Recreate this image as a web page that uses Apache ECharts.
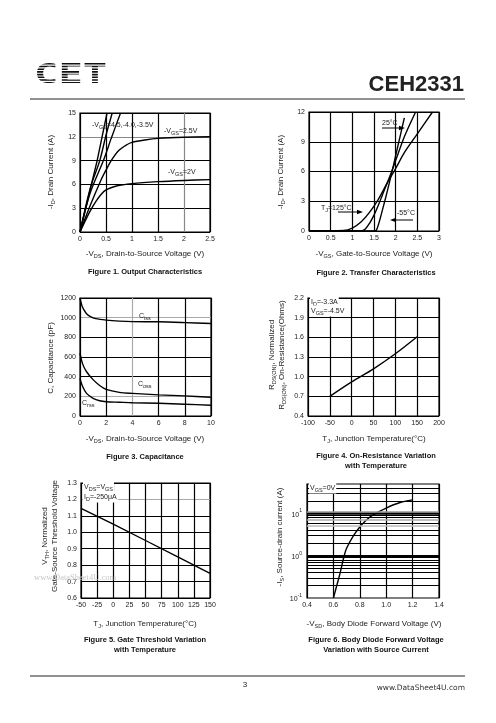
<!DOCTYPE html>
<html><head><meta charset="utf-8">
<script src="https://cdn.jsdelivr.net/npm/echarts@6/dist/echarts.min.js"></script>
<style>html,body{margin:0;padding:0;background:#fff}#c{width:496px;height:723px}</style>
</head><body><div id="c"></div><script>
// ---------- DATA ----------
// Figure 1: Output characteristics  [-VDS (V), -ID (A)]
const fig1Vgs45 = [[0,0],[0.33,9],[0.52,15]];
const fig1Vgs40 = [[0,0],[0.2,5.6],[0.38,9],[0.5,12.2],[0.62,15]];
const fig1Vgs35 = [[0,0],[0.2,5],[0.45,9],[0.6,11.8],[0.78,15]];
const fig1Vgs25 = [[0,0],[0.2,3.4],[0.4,6.5],[0.5,7.8],[0.6,9],[0.75,10.3],[0.9,11],[1.0,11.3],[1.25,11.6],[1.5,11.8],[2.0,11.95],[2.5,12.0]];
const fig1Vgs20 = [[0,0],[0.1,1.4],[0.2,2.7],[0.3,3.8],[0.4,4.7],[0.5,5.3],[0.7,5.8],[1.0,6.1],[1.5,6.35],[2.0,6.5],[2.5,6.6]];
// Figure 2: Transfer characteristics [-VGS (V), -ID (A)]
const fig2T125 = [[0,0],[0.8,0.05],[1.0,0.3],[1.2,0.9],[1.4,1.9],[1.6,3.2],[1.8,4.8],[2.0,6.3],[2.2,7.9],[2.5,9.8],[2.85,12]];
const fig2T25  = [[0,0],[1.2,0],[1.3,0.2],[1.4,0.8],[1.5,1.6],[1.6,2.6],[1.7,3.7],[1.8,4.8],[1.9,5.9],[2.0,7.1],[2.2,9.5],[2.46,12]];
const fig2Tm55 = [[0,0],[1.5,0],[1.55,0.05],[1.6,0.6],[1.7,2.2],[1.8,3.9],[1.9,5.7],[2.0,7.6],[2.1,9.5],[2.2,11.4]];
// Figure 3: Capacitance [-VDS (V), C (pF)]
const fig3Ciss = [[0,1200],[0.15,1120],[0.3,1080],[0.5,1040],[0.8,1010],[1.2,990],[2,975],[3,965],[4,960],[6,958],[8,950],[10,940]];
const fig3Coss = [[0,640],[0.2,530],[0.5,450],[1,370],[1.5,310],[2,270],[3,240],[4,230],[6,215],[8,205],[10,190]];
const fig3Crss = [[0,380],[0.2,300],[0.5,230],[1,180],[1.5,155],[2,145],[3,140],[4,135],[6,130],[8,120],[10,110]];
// Figure 4: On-resistance vs temperature [TJ (C), normalized RDS(ON)]
const fig4Rds = [[-50,0.7],[0,0.92],[50,1.12],[100,1.35],[150,1.61]];
// Figure 5: Gate threshold vs temperature [TJ (C), normalized VTH]
const fig5Vth = [[-50,1.145],[0,1.05],[50,0.95],[100,0.85],[150,0.75]];
// Figure 6: Body diode [-VSD (V), -IS (A)]
const fig6Is = [[0.6,0.1],[0.62,0.17],[0.65,0.38],[0.68,0.95],[0.7,1.5],[0.75,2.9],[0.8,4.8],[0.85,7],[0.9,9.3],[1.0,13.5],[1.1,18],[1.2,21]];
const fig6MinorGrid = [0.2,0.3,0.4,0.5,0.6,0.7,0.8,0.9,1,2,3,4,5,6,7,8,9,10,11,20,30,40];
const fig6DecadeTicks = [0.1,1,10];

// ---------- STYLE / LAYOUT ----------
const FONT = 'Liberation Sans, Arial, sans-serif';
const TXT = '#222';
const subRich = {
  s:{fontSize:5.5, fontFamily:FONT, fill:TXT, verticalAlign:'bottom', lineHeight:6},
  b:{fontSize:7.5, fontFamily:FONT, fill:TXT, fontWeight:'bold', lineHeight:11}
};
const gridBoxes = [
  {left:80, top:113, width:130, height:119},
  {left:309, top:112, width:130, height:119},
  {left:80, top:298, width:131, height:118},
  {left:308, top:298, width:131, height:118},
  {left:81, top:483, width:129, height:115},
  {left:307, top:484, width:132, height:114}
];
const grids = gridBoxes.map(g => Object.assign({show:true, borderColor:'#000', borderWidth:1.2, backgroundColor:'transparent', containLabel:false}, g));

function ax(gi, min, max, interval, fmt, splitColor, extra){
  return Object.assign({
    type:'value', gridIndex:gi, min, max, interval,
    axisLine:{show:false}, axisTick:{show:false},
    axisLabel:{fontSize:7, color:TXT, margin:4, fontFamily:FONT, formatter:fmt, showMinLabel:true, showMaxLabel:true},
    splitLine:{show:true, lineStyle:{color:splitColor||'#000', width:1.2}}
  }, extra||{});
}
const f1 = v => (Math.round(v*10)/10).toFixed(1);
const fInt = v => String(Math.round(v*10)/10);

const xAxes = [
  ax(0,0,2.5,0.5,fInt,['#000','#000','#000','#000','#888','#000']),
  ax(1,0,3,0.5,fInt),
  ax(2,0,10,2,fInt,['#000','#000','#aaa','#000','#000','#000']),
  ax(3,-100,200,50,fInt),
  ax(4,-50,150,25,fInt),
  ax(5,0.4,1.4,0.2,f1)
];
const isDecade = v => fig6DecadeTicks.some(d => Math.abs(Math.log10(v)-Math.log10(d))<1e-6);
const yAxes = [
  ax(0,0,15,3,fInt,['#000','#000','#000','#000','#888','#000']),
  ax(1,0,12,3,fInt),
  ax(2,0,1200,200,fInt,['#000','#aaa','#000','#000','#000','#aaa','#000']),
  ax(3,0.4,2.2,0.3,f1),
  ax(4,0.6,1.3,0.1,f1,['#000','#000','#000','#000','#000','#000','#aaa','#000']),
  {type:'log', gridIndex:5, logBase:10, min:0.1, max:50,
   axisLine:{show:false}, axisTick:{show:false}, splitLine:{show:false},
   axisLabel:{fontSize:7, color:TXT, margin:5, fontFamily:FONT, showMinLabel:true, showMaxLabel:true,
     formatter: v => isDecade(v) ? '{n|10}{p|' + Math.round(Math.log10(v)) + '}' : '',
     rich:{n:{fontSize:7, fontFamily:FONT, color:TXT, lineHeight:10, verticalAlign:'bottom'},
           p:{fontSize:5, fontFamily:FONT, color:TXT, lineHeight:5, verticalAlign:'top'}}}}
];

function line(gi, data, extra){
  return Object.assign({type:'line', xAxisIndex:gi, yAxisIndex:gi, data, showSymbol:false, symbol:'none',
    smooth:0.3, lineStyle:{color:'#000', width:1.4}, animation:false, silent:true}, extra||{});
}
const greyLines = {11:'#999', 7:'#aaa', 5:'#bbb'};
const thickLines = {1:3, 10:2.5};
const fig6Mark = {
  silent:true, symbol:['none','none'], label:{show:false},
  data: fig6MinorGrid.map(v => ({yAxis:v, lineStyle:{type:'solid', color:greyLines[v]||'#000', width:thickLines[v]||(greyLines[v]?1.5:1.1)}}))
};
const series = [
  line(0,fig1Vgs45,{smooth:false}), line(0,fig1Vgs40), line(0,fig1Vgs35), line(0,fig1Vgs25), line(0,fig1Vgs20),
  line(1,fig2T125), line(1,fig2T25), line(1,fig2Tm55),
  line(2,fig3Ciss), line(2,fig3Coss), line(2,fig3Crss),
  line(3,fig4Rds),
  line(4,fig5Vth,{smooth:false}),
  line(5,fig6Is,{markLine:fig6Mark, z:3})
];

// ---------- TEXT ----------
function T(x,y,text,o){
  const st = Object.assign({text, fontSize:8, fontFamily:FONT, fill:TXT, align:'left', verticalAlign:'middle', lineHeight:11, rich:subRich}, o||{});
  return {type:'text', x, y, silent:true, z:20, style:st};
}
function TR(x,y,text,o){ const t = T(x,y,text,Object.assign({align:'center'},o)); t.rotation = Math.PI/2; return t; }
function cap(x,y,text){ return T(x,y,text,{align:'center', fontWeight:'bold', fontSize:7.5, fill:'#111'}); }
function arrow(x1,y,x2){
  const d = x2>x1 ? 1 : -1;
  return [
    {type:'line', silent:true, z:20, shape:{x1, y1:y, x2:x2-d*3, y2:y}, style:{stroke:'#000', lineWidth:1}},
    {type:'polygon', silent:true, z:20, shape:{points:[[x2,y],[x2-d*6,y-2.2],[x2-d*6,y+2.2]]}, style:{fill:'#000'}}
  ];
}
const small = {fontSize:7};
const boxed = {fontSize:7, backgroundColor:'#fff', padding:[0,1,0,1]};

const stripes = [];
for (let yy = 64.6; yy < 88; yy += 2.7) stripes.push({type:'rect', silent:true, z:31, shape:{x:30, y:yy, width:80, height:1.1}, style:{fill:'#fff'}});

const graphic = [
  // header
  {type:'text', x:34, y:62, scaleX:1.5, silent:true, z:30, style:{text:'CET', fontSize:27, fontWeight:'bold', fontFamily:'DejaVu Sans Mono', fill:'#111', align:'left', verticalAlign:'top'}},
  ...stripes,
  T(464,85,'CEH2331',{align:'right', fontSize:22, fontWeight:'bold', fill:'#222', lineHeight:24}),
  {type:'line', silent:true, shape:{x1:30,y1:99,x2:465,y2:99}, style:{stroke:'#222', lineWidth:1}},
  // fig 1
  T(92,125,'-V{s|GS}=4.5,-4.0,-3.5V',small),
  T(164,131,'-V{s|GS}=2.5V',small),
  T(168,172,'-V{s|GS}=2V',small),
  TR(51,172,'-I{s|D}, Drain Current (A)'),
  T(145,254,'-V{s|DS}, Drain-to-Source Voltage (V)',{align:'center'}),
  cap(145,272,'Figure 1. Output Characteristics'),
  // fig 2
  T(382,123,'25°C',small), ...arrow(382,128,405),
  T(321,208,'T{s|J}=125°C',small), ...arrow(338,212,363),
  T(397,213,'-55°C',small), ...arrow(413,220,390),
  TR(281,172,'-I{s|D}, Drain Current (A)'),
  T(374,254,'-V{s|GS}, Gate-to-Source Voltage (V)',{align:'center'}),
  cap(376,273,'Figure 2. Transfer Characteristics'),
  // fig 3
  T(139,316,'C{s|iss}',small), T(138,384,'C{s|oss}',small), T(82,403,'C{s|rss}',small),
  TR(51,358,'C, Capacitance (pF)'),
  T(145,439,'-V{s|DS}, Drain-to-Source Voltage (V)',{align:'center'}),
  cap(145,457,'Figure 3. Capacitance'),
  // fig 4
  T(310,302,'I{s|D}=-3.3A',boxed), T(310,311,'V{s|GS}=-4.5V',boxed),
  TR(272,355,'R{s|DS(ON)}, Normalized'),
  TR(282,355,'R{s|DS(ON)}, On-Resistance(Ohms)'),
  T(374,439,'T{s|J}, Junction Temperature(°C)',{align:'center'}),
  cap(376,456,'Figure 4. On-Resistance Variation'),
  cap(376,466,'with Temperature'),
  // fig 5
  T(83,487,'V{s|DS}=V{s|GS}',boxed), T(83,497,'I{s|D}=-250μA',boxed),
  TR(45,536,'V{s|TH}, Normalized'),
  TR(55,536,'Gate-Source Threshold Voltage'),
  T(145,624,'T{s|J}, Junction Temperature(°C)',{align:'center'}),
  cap(145,640,'Figure 5. Gate Threshold Variation'),
  cap(145,650,'with Temperature'),
  T(34,578,'www.DataSheet4U.com',{fontFamily:'Liberation Serif, serif', fontSize:8.5, fill:'#c8c8c8'}),
  // fig 6
  T(309,488,'V{s|GS}=0V',boxed),
  TR(280,537,'-I{s|S}, Source-drain current (A)'),
  T(374,624,'-V{s|SD}, Body Diode Forward Voltage (V)',{align:'center'}),
  cap(376,640,'Figure 6. Body Diode Forward Voltage'),
  cap(376,650,'Variation with Source Current'),
  // footer
  {type:'line', silent:true, shape:{x1:30,y1:676,x2:465,y2:676}, style:{stroke:'#222', lineWidth:1}},
  T(245,685,'3',{align:'center', fontSize:8}),
  T(465,688,'www.DataSheet4U.com',{align:'right', fontFamily:'DejaVu Sans', fontSize:7.5, fill:'#333'})
];

const chart = echarts.init(document.getElementById('c'), null, {renderer:'canvas'});
chart.setOption({animation:false, backgroundColor:'#fff', grid:grids, xAxis:xAxes, yAxis:yAxes, series, graphic});
</script></body></html>
